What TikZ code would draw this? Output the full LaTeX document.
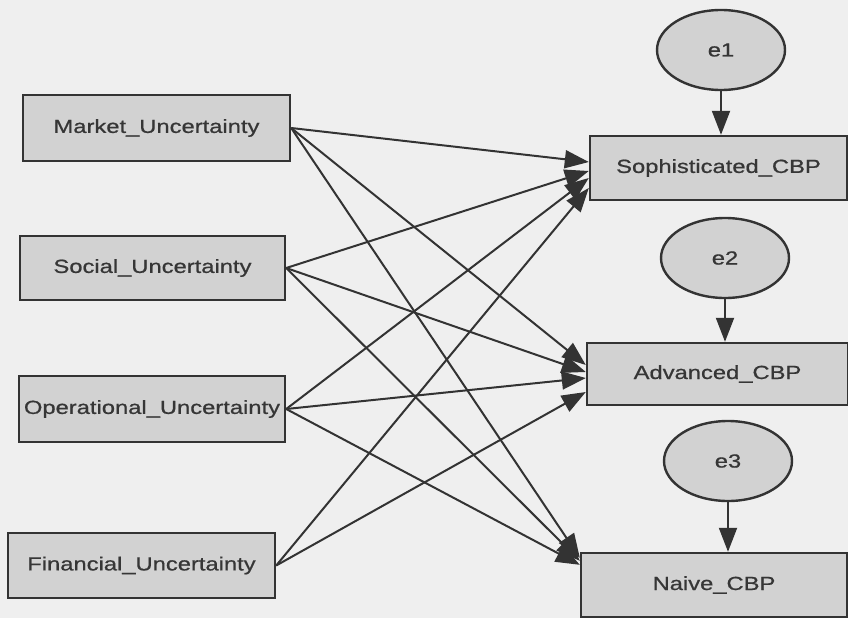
\documentclass[tikz,border=0pt]{standalone}
\usepackage{fontspec}
\setmainfont{Liberation Sans}[FakeStretch=1.25,FakeBold=0.8]
\usetikzlibrary{arrows.meta,shapes.geometric}
\definecolor{bgc}{HTML}{EFEFEF}
\definecolor{boxfill}{HTML}{D2D2D2}
\definecolor{edge}{HTML}{333333}
\definecolor{ink}{HTML}{363636}
\begin{document}
\begin{tikzpicture}[x=1pt,y=-1pt,
  var/.style={draw=edge,fill=boxfill,line width=2.4pt,rectangle,inner sep=0pt,
    text=ink,font=\fontsize{19}{19}\selectfont},
  err/.style={draw=edge,fill=boxfill,line width=2.4pt,ellipse,inner sep=0pt,
    minimum width=128pt,minimum height=80pt,text=ink,font=\fontsize{19}{19}\selectfont},
  path/.style={draw=edge,line width=2pt,-{Triangle[length=24pt,width=18pt]}}]
  % canvas
  \fill[bgc] (0,0) rectangle (848,618);
  \useasboundingbox (0,0) rectangle (848,618);

  % exogenous variables
  \node[var,minimum width=267pt,minimum height=66pt] (mkt) at (156.5,128) {Market\_Uncertainty};
  \node[var,minimum width=265pt,minimum height=64pt] (soc) at (152.5,268) {Social\_Uncertainty};
  \node[var,minimum width=266pt,minimum height=66pt] (ope) at (152,409) {Operational\_Uncertainty};
  \node[var,minimum width=267pt,minimum height=65pt] (fin) at (141.5,565.5) {Financial\_Uncertainty};

  % endogenous variables
  \node[var,minimum width=257pt,minimum height=64pt] (sop) at (718.5,168) {Sophisticated\_CBP};
  \node[var,minimum width=261pt,minimum height=62pt] (adv) at (717.5,374) {Advanced\_CBP};
  \node[var,minimum width=266pt,minimum height=64pt] (nai) at (714,585) {Naive\_CBP};

  % error terms
  \node[err] (e1) at (721,50) {e1};
  \node[err] (e2) at (725,258) {e2};
  \node[err] (e3) at (728,461) {e3};

  \draw[path] (e1.south) -- (e1.south |- sop.north);
  \draw[path] (e2.south) -- (e2.south |- adv.north);
  \draw[path] (e3.south) -- (e3.south |- nai.north);

  % regression paths
  \draw[path] (mkt.east) -- ([yshift=6pt]sop.west);
  \draw[path] (soc.east) -- ([yshift=-3pt]sop.west);
  \draw[path] (ope.east) -- ([yshift=-10pt]sop.west);
  \draw[path] (fin.east) -- ([yshift=-20pt]sop.west);

  \draw[path] (mkt.east) -- ([yshift=9pt]adv.west);
  \draw[path] (soc.east) -- ([yshift=2pt]adv.west);
  \draw[path] (ope.east) -- ([yshift=-4pt]adv.west);
  \draw[path] (fin.east) -- ([yshift=-18pt]adv.west);

  \draw[path] (mkt.east) -- ([yshift=-6pt]nai.north west);
  \draw[path] (soc.east) -- ([yshift=-9pt]nai.north west);
  \draw[path] (ope.east) -- ([yshift=-13pt]nai.north west);
\end{tikzpicture}
\end{document}
